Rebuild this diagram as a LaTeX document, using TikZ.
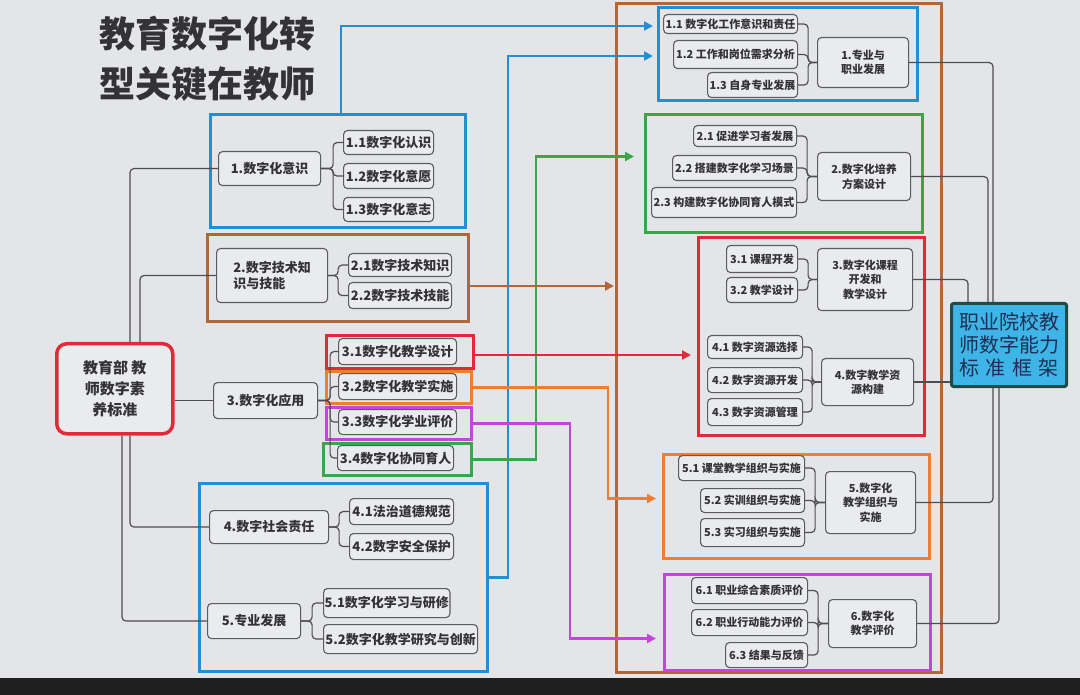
\documentclass[tikz,border=0pt]{standalone}
\usepackage{fontspec}
\setmainfont{Noto Sans CJK SC}
\usetikzlibrary{arrows.meta}
\definecolor{bg}{HTML}{E4E5E9}
\definecolor{nodefill}{HTML}{EAEBEE}
\definecolor{nodeline}{HTML}{5C5C60}
\definecolor{txt}{HTML}{333336}
\definecolor{cblue}{HTML}{1F8FD6}
\definecolor{cbrown}{HTML}{B0683A}
\definecolor{cred}{HTML}{E02A3A}
\definecolor{corange}{HTML}{EE7E32}
\definecolor{cpurple}{HTML}{C245DC}
\definecolor{cgreen}{HTML}{3AA64A}
\definecolor{tline}{HTML}{4E4E52}
\definecolor{tfill}{HTML}{3FB4E6}
\definecolor{tborder}{HTML}{1F4A45}
\definecolor{ttext}{HTML}{1D2F55}
\newcommand\nbox[7][nb]{\node[#1,minimum width={(#5-#3)*1pt},minimum height={(#6-#4)*1pt}] (#2) at (#3,#4) {#7};}
\begin{document}
\begin{tikzpicture}[x=1pt,y=-1pt,
  nb/.style={draw=nodeline, fill=nodefill, rounded corners=4pt, line width=1.1pt, anchor=north west, inner sep=1pt, align=center, text=txt, font=\fontsize{13}{16}\selectfont\bfseries},
  rb/.style={nb, font=\fontsize{11}{14.5}\selectfont\bfseries},
  rootbox/.style={nb, draw=cred, line width=3.5pt, rounded corners=10pt, fill=nodefill, font=\fontsize{15}{21}\selectfont\bfseries},
  tbox/.style={nb, draw=tborder, fill=tfill, line width=3pt, rounded corners=2pt, text=ttext, font=\fontsize{20}{23}\selectfont},
  fr/.style={draw, line width=3pt, anchor=north west, inner sep=0pt},
  tl/.style={draw=tline, line width=1.2pt, rounded corners=4pt},
  arr/.style={line width=2.6pt, -{Triangle[length=9pt,width=9pt]}},
  ttl/.style={anchor=west, inner sep=0pt, text=txt, font=\fontsize{36}{40}\selectfont\bfseries}
]
\useasboundingbox (0,0) rectangle (1080,695);
\fill[bg] (0,0) rectangle (1080,695);
\fill[black!88] (0,678) rectangle (1080,695);

% title
\node[ttl] (t1) at (99,34) {教育数字化转};
\node[ttl] (t2) at (99,84) {型关键在教师};

% colour frames
\nbox[fr,cblue]{F1}{209}{113}{464}{226}{}
\nbox[fr,cbrown]{F2}{206}{233}{467}{320}{}
\nbox[fr,cred]{F31}{325}{334}{472}{367}{}
\nbox[fr,corange]{F32}{325}{370}{470}{402}{}
\nbox[fr,cpurple]{F33}{325}{406}{470}{438}{}
\nbox[fr,cgreen]{F34}{322}{442}{470}{474}{}
\nbox[fr,cblue]{F45}{198}{482}{486}{670}{}
\nbox[fr,cbrown]{FO}{615}{2}{940}{671}{}
\nbox[fr,cblue]{RF1}{657}{6}{916}{99}{}
\nbox[fr,cgreen]{RF2}{644}{113}{921}{231}{}
\nbox[fr,cred]{RF3}{697}{236}{923}{434}{}
\nbox[fr,corange]{RF5}{662}{453}{928}{557}{}
\nbox[fr,cpurple]{RF6}{663}{573}{929}{669}{}

% left tree nodes
\nbox[rootbox]{root}{55}{342}{171}{432}{教育部 教\\师数字素\\养标准}
\nbox{L1}{218}{151}{320}{185}{1.数字化意识}
\nbox{L11}{343}{130}{433}{154}{1.1数字化认识}
\nbox{L12}{343}{163}{433}{188}{1.2数字化意愿}
\nbox{L13}{343}{197}{433}{221}{1.3数字化意志}
\nbox[nb,align=left]{L2}{216}{248}{327}{302}{2.数字技术知\\识与技能}
\nbox{L21}{348}{253}{451}{276}{2.1数字技术知识}
\nbox{L22}{348}{282}{451}{308}{2.2数字技术技能}
\nbox{L3}{213}{382}{317}{418}{3.数字化应用}
\nbox{L31}{338}{338}{456}{364}{3.1数字化教学设计}
\nbox{L32}{338}{373}{456}{399}{3.2数字化教学实施}
\nbox{L33}{338}{409}{456}{434}{3.3数字化学业评价}
\nbox{L34}{337}{445}{453}{470}{3.4数字化协同育人}
\nbox{L4}{209}{510}{328}{543}{4.数字社会责任}
\nbox{L41}{349}{498}{453}{524}{4.1法治道德规范}
\nbox{L42}{349}{533}{453}{559}{4.2数字安全保护}
\nbox{L5}{207}{603}{300}{638}{5.专业发展}
\nbox{L51}{323}{588}{449}{617}{5.1数字化学习与研修}
\nbox{L52}{323}{624}{477}{653}{5.2数字化教学研究与创新}

% right tree nodes
\nbox[rb]{R11}{663}{14}{797}{33}{1.1 数字化工作意识和责任}
\nbox[rb]{R12}{673}{40}{797}{68}{1.2 工作和岗位需求分析}
\nbox[rb]{R13}{707}{72}{797}{97}{1.3 自身专业发展}
\nbox[rb]{R1}{817}{37}{908}{87}{1.专业与\\职业发展}
\nbox[rb]{R21}{693}{125}{796}{146}{2.1 促进学习者发展}
\nbox[rb]{R22}{672}{155}{796}{180}{2.2 搭建数字化学习场景}
\nbox[rb]{R23}{651}{187}{796}{217}{2.3 构建数字化协同育人模式}
\nbox[rb]{R2}{817}{152}{910}{200}{2.数字化培养\\方案设计}
\nbox[rb]{R31}{726}{245}{797}{272}{3.1 课程开发}
\nbox[rb]{R32}{726}{277}{797}{302}{3.2 教学设计}
\nbox[rb]{R3}{817}{248}{912}{310}{3.数字化课程\\开发和\\教学设计}
\nbox[rb]{R41}{707}{335}{802}{358}{4.1 数字资源选择}
\nbox[rb]{R42}{707}{367}{802}{392}{4.2 数字资源开发}
\nbox[rb]{R43}{707}{398}{802}{425}{4.3 数字资源管理}
\nbox[rb]{R4}{821}{358}{913}{405}{4.数字教学资\\源构建}
\nbox[rb]{R51}{678}{455}{804}{480}{5.1 课堂教学组织与实施}
\nbox[rb]{R52}{700}{488}{804}{512}{5.2 实训组织与实施}
\nbox[rb]{R53}{700}{518}{804}{546}{5.3 实习组织与实施}
\nbox[rb]{R5}{825}{471}{915}{533}{5.数字化\\教学组织与\\实施}
\nbox[rb]{R61}{691}{577}{807}{603}{6.1 职业综合素质评价}
\nbox[rb]{R62}{691}{609}{807}{635}{6.2 职业行动能力评价}
\nbox[rb]{R63}{725}{642}{807}{667}{6.3 结果与反馈}
\nbox[rb]{R6}{828}{599}{916}{647}{6.数字化\\教学评价}
\nbox[tbox]{T}{950}{302}{1065}{385}{职业院校教\\师数字能力\\标\hspace{6.5pt}准\hspace{6.5pt}框\hspace{6.5pt}架}

% left tree connectors
\draw[tl] ([xshift=75pt]root.north west) |- (L1.west);
\draw[tl] ([xshift=85pt]root.north west) |- (L2.west);
\draw[tl] (root.east |- L3.west) -- (L3.west);
\draw[tl] ([xshift=75pt]root.south west) |- (L4.west);
\draw[tl] ([xshift=67pt]root.south west) |- (L5.west);
\foreach \c in {L11,L12,L13} \draw[tl] (L1.east) -- ++(12,0) |- (\c.west);
\foreach \c in {L21,L22} \draw[tl] (L2.east) -- ++(10,0) |- (\c.west);
\foreach \c in {L31,L32,L33,L34} \draw[tl] (L3.east) -- ++(12,0) |- (\c.west);
\foreach \c in {L41,L42} \draw[tl] (L4.east) -- ++(10,0) |- (\c.west);
\foreach \c in {L51,L52} \draw[tl] (L5.east) -- ++(11,0) |- (\c.west);

% right tree connectors
\foreach \c in {R11,R12,R13} \draw[tl] (\c.east) -- ++(10,0) |- (R1.west);
\foreach \c in {R21,R22,R23} \draw[tl] (\c.east) -- ++(10,0) |- (R2.west);
\foreach \c in {R31,R32} \draw[tl] (\c.east) -- ++(10,0) |- (R3.west);
\foreach \c in {R41,R42,R43} \draw[tl] (\c.east) -- ++(9,0) |- (R4.west);
\foreach \c in {R51,R52,R53} \draw[tl] (\c.east) -- ++(10,0) |- (R5.west);
\foreach \c in {R61,R62,R63} \draw[tl] (\c.east) -- ++(10,0) |- (R6.west);

% to target
\draw[tl] (R1.east) -| ([xshift=43pt]T.north west);
\draw[tl] (R2.east) -| ([xshift=38pt]T.north west);
\draw[tl] (R3.east) -| ([xshift=18pt]T.north west);
\draw[tl] (R4.east) -- (R4.east -| T.west);
\draw[tl] (R5.east) -| ([xshift=43pt]T.south west);
\draw[tl] (R6.east) -| ([xshift=49pt]T.south west);

% coloured arrows
\draw[arr,cblue,shorten >=4pt] ([xshift=132pt]F1.north west) |- ([yshift=28pt]RF1.west);
\draw[arr,cblue,shorten >=4pt] (F45.east) -- ++(19,0) |- ([yshift=-2pt]RF1.west);
\draw[arr,cgreen,shorten >=10pt] (F34.east) -- ++(63,0) |- ([yshift=17pt]RF2.west);
\draw[arr,cbrown,shorten >=1pt] ([yshift=-8pt]F2.east) -- ([yshift=-8pt]F2.east -| FO.west);
\draw[arr,cred,shorten >=6pt] ([yshift=-3pt]F31.east) -- ([yshift=-3pt]F31.east -| RF3.west);
\draw[arr,corange,shorten >=6pt] (F32.east) -- ++(135,0) |- ([yshift=8pt]RF5.west);
\draw[arr,cpurple,shorten >=7pt] (F33.east) -- ++(97,0) |- ([yshift=-16pt]RF6.west);
\end{tikzpicture}
\end{document}
